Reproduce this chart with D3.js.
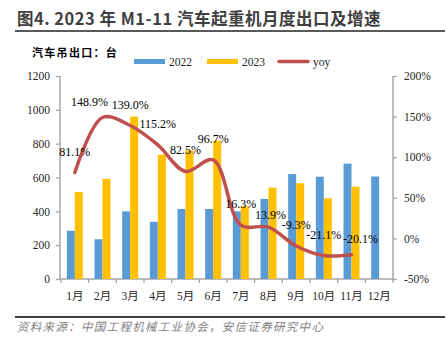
<!DOCTYPE html>
<html>
<head>
<meta charset="utf-8">
<script src="https://cdn.jsdelivr.net/npm/d3@7"></script>
<style>
  body { margin: 0; background: #fff; }
  svg { display: block; }
</style>
</head>
<body>
<div id="chart-area"></div>
<script>
// 数据
const months = ["1月", "2月", "3月", "4月", "5月", "6月", "7月", "8月", "9月", "10月", "11月", "12月"];
const exports2022 = [285, 235, 400, 338, 414, 414, 400, 473, 621, 605, 682, 606];
const exports2023 = [515, 592, 960, 735, 760, 818, 430, 540, 566, 477, 546];
const yoy = [81.1, 148.9, 139.0, 115.2, 82.5, 96.7, 16.3, 13.9, -9.3, -21.1, -20.1];
const leftTicks = [0, 200, 400, 600, 800, 1000, 1200];
const rightTicks = [-50, 0, 50, 100, 150, 200];
// 个别标签的微调 [dx, dy]
const labelNudge = [[0, 0], [-13, 6], [0, 0], [0, 0], [0, 0], [0, 0], [0, 0], [2, 9], [0, 0], [0, 0], [9, 5]];

const width = 446;
const height = 346;
const serif = "'Liberation Serif', 'Times New Roman', 'Noto Sans CJK SC', serif";
const cjk = "'Noto Sans CJK SC', sans-serif";

const svg = d3.select("#chart-area")
    .append("svg")
    .attr("width", width)
    .attr("height", height);

// 标题
svg.append("text")
    .attr("x", 17)
    .attr("y", 25)
    .attr("font-family", cjk)
    .attr("font-weight", "bold")
    .attr("font-size", "16.5px")
    .attr("letter-spacing", "0.5px")
    .attr("fill", "#404040")
    .text("图4. 2023 年 M1-11 汽车起重机月度出口及增速");

svg.append("line")
    .attr("x1", 15).attr("x2", 445)
    .attr("y1", 31).attr("y2", 31)
    .attr("stroke", "#595959")
    .attr("stroke-width", 2);

svg.append("text")
    .attr("x", 32)
    .attr("y", 57)
    .attr("font-family", cjk)
    .attr("font-weight", "bold")
    .attr("font-size", "11px")
    .attr("letter-spacing", "1.3px")
    .attr("fill", "#000")
    .text("汽车吊出口：台");

// 比例尺
const x = d3.scaleBand()
    .domain(months)
    .range([61, 393]);

const xInner = d3.scaleBand()
    .domain(["2022", "2023"])
    .range([0, x.bandwidth()])
    .paddingOuter(0.73);

const y = d3.scaleLinear()
    .domain([0, 1200])
    .range([279, 76]);

const y2 = d3.scaleLinear()
    .domain([-50, 200])
    .range([279, 76]);

// 坐标轴
const axisColor = "#a6a6a6";

const leftAxis = svg.append("g")
    .attr("transform", "translate(60,0)")
    .call(d3.axisLeft(y).tickValues(leftTicks).tickSize(4).tickPadding(6).tickFormat(d3.format("d")));

const rightAxis = svg.append("g")
    .attr("transform", "translate(393,0)")
    .call(d3.axisRight(y2).tickValues(rightTicks).tickSize(4).tickPadding(7).tickFormat(d => `${d}%`));

const bottomAxis = svg.append("g")
    .attr("transform", "translate(0,279)")
    .call(d3.axisBottom(x).tickSize(0).tickPadding(13));

// 类别分隔刻度
bottomAxis.selectAll(".sep")
    .data(d3.range(months.length + 1))
    .enter()
    .append("line")
    .attr("class", "sep")
    .attr("x1", i => 61 + i * x.step())
    .attr("x2", i => 61 + i * x.step())
    .attr("y1", 0)
    .attr("y2", 4)
    .attr("stroke", axisColor)
    .attr("stroke-width", 1.3);

[leftAxis, rightAxis, bottomAxis].forEach(a => {
    a.select(".domain").attr("stroke", axisColor).attr("stroke-width", 1.5);
    a.selectAll(".tick line").attr("stroke", axisColor).attr("stroke-width", 1.3);
    a.selectAll("text")
        .attr("font-family", serif)
        .attr("font-size", "11.5px")
        .attr("fill", "#262626");
});
leftAxis.select(".domain").attr("d", "M0,76V279");
rightAxis.select(".domain").attr("d", "M0,76V279");
bottomAxis.select(".domain").attr("d", "M60,0H393");

// 柱子
svg.append("g")
    .selectAll("rect")
    .data(exports2022)
    .enter()
    .append("rect")
    .attr("x", (d, i) => x(months[i]) + xInner("2022"))
    .attr("y", d => y(d))
    .attr("width", xInner.bandwidth())
    .attr("height", d => y(0) - y(d))
    .attr("fill", "#5b9bd5");

svg.append("g")
    .selectAll("rect")
    .data(exports2023)
    .enter()
    .append("rect")
    .attr("x", (d, i) => x(months[i]) + xInner("2023"))
    .attr("y", d => y(d))
    .attr("width", xInner.bandwidth())
    .attr("height", d => y(0) - y(d))
    .attr("fill", "#ffc000");

// 同比折线
const line = d3.line()
    .x((d, i) => x(months[i]) + x.bandwidth() / 2)
    .y(d => y2(d))
    .curve(d3.curveCatmullRom.alpha(0.5));

svg.append("path")
    .datum(yoy)
    .attr("d", line)
    .attr("fill", "none")
    .attr("stroke", "#c0504d")
    .attr("stroke-width", 3.5)
    .attr("stroke-linecap", "round");

svg.append("g")
    .selectAll("text")
    .data(yoy)
    .enter()
    .append("text")
    .attr("x", (d, i) => x(months[i]) + x.bandwidth() / 2 + labelNudge[i][0])
    .attr("y", (d, i) => y2(d) - 17 + labelNudge[i][1])
    .attr("text-anchor", "middle")
    .attr("font-family", serif)
    .attr("font-size", "12px")
    .attr("fill", "#000")
    .text(d => `${d.toFixed(1)}%`);

// 图例
const legend = svg.append("g").attr("font-family", serif).attr("font-size", "11.5px").attr("fill", "#262626");
const legendItems = [
    { name: "2022", color: "#5b9bd5", x: 134, type: "rect" },
    { name: "2023", color: "#ffc000", x: 207, type: "rect" },
    { name: "yoy", color: "#c0504d", x: 278, type: "line" }
];
legendItems.forEach(it => {
    if (it.type === "rect") {
        legend.append("rect")
            .attr("x", it.x).attr("y", 59)
            .attr("width", 31).attr("height", 5)
            .attr("fill", it.color);
    } else {
        legend.append("line")
            .attr("x1", it.x + 1).attr("x2", it.x + 30)
            .attr("y1", 61.5).attr("y2", 61.5)
            .attr("stroke", it.color)
            .attr("stroke-width", 3.5)
            .attr("stroke-linecap", "round");
    }
    legend.append("text")
        .attr("x", it.x + 35)
        .attr("y", 65.5)
        .text(it.name);
});

// 底部来源
svg.append("line")
    .attr("x1", 15).attr("x2", 445)
    .attr("y1", 317).attr("y2", 317)
    .attr("stroke", "#404040")
    .attr("stroke-width", 2);

svg.append("text")
    .attr("x", 17)
    .attr("y", 331)
    .attr("font-family", cjk)
    .attr("font-style", "italic")
    .attr("font-size", "11.5px")
    .attr("letter-spacing", "1.3px")
    .attr("fill", "#7f7f7f")
    .text("资料来源：中国工程机械工业协会，安信证券研究中心");
</script>
</body>
</html>
